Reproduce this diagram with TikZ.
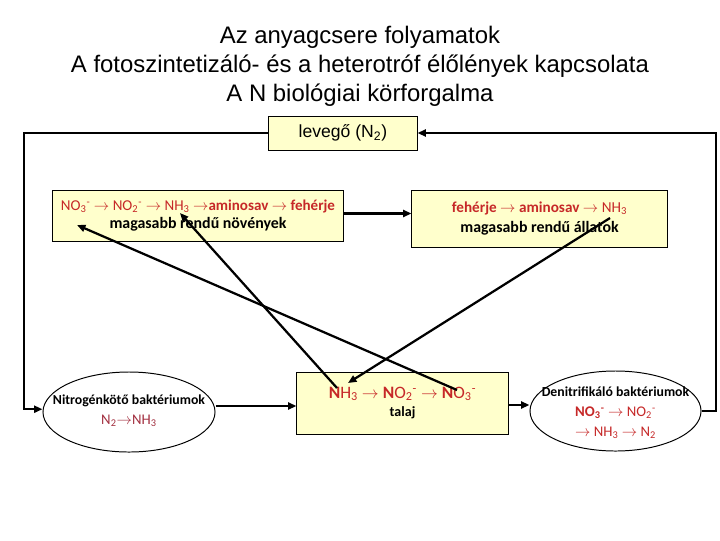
\documentclass[tikz,border=0pt]{standalone}
\usepackage{fontspec}
\setmainfont{Liberation Sans}
\newfontfamily\calfont{Carlito}
\usetikzlibrary{arrows.meta, positioning, shapes.geometric}
\definecolor{paleyellow}{HTML}{FFFFCC}
\definecolor{chemred}{HTML}{C62828}
\definecolor{chemmaroon}{HTML}{A33040}
\newcommand{\chg}[2]{\textsubscript{#1}\textsuperscript{#2}}
\tikzset{
  ybox/.style={rectangle, draw=black, fill=paleyellow, line width=0.7pt,
               inner sep=2pt, align=center},
  oval/.style={ellipse, draw=black, line width=0.7pt, minimum width=4.3cm,
               minimum height=2cm, inner sep=0pt},
  ovaltext/.style={align=center, inner sep=0pt,
                   font=\calfont\fontsize{9.8}{14}\selectfont},
  arr/.style={-{Triangle[length=6pt,width=5pt]}, line width=1.6pt, #1},
  arr/.default=black,
}
\begin{document}
\begin{tikzpicture}[x=0.025cm, y=-0.025cm]
  \useasboundingbox[fill=white] (0,0) rectangle (720,540);
  \node[align=center, font=\fontsize{17}{20.6}\selectfont] (title) at (360,66)
    {Az anyagcsere folyamatok\\A fotoszintetizáló- és a heterotróf élőlények kapcsolata\\A N biológiai körforgalma};
  \node[ybox, minimum width=3.7cm, minimum height=0.85cm, font=\fontsize{12.5}{14}\selectfont]
    (air) at (343,133) {levegő (N\textsubscript{2})};
  \node[ybox, minimum width=7.25cm, minimum height=1.275cm, font=\calfont\fontsize{10.7}{12.5}\selectfont]
    (plants) at (198,215.5)
    {\textcolor{chemred}{NO\chg{3}{-} $\rightarrow$ NO\chg{2}{-} $\rightarrow$ NH\textsubscript{3} $\rightarrow$\textbf{aminosav} $\rightarrow$ \textbf{fehérje}}\\
     {\fontsize{11.3}{12.5}\selectfont\textbf{magasabb rendű növények}}};
  \node[ybox, minimum width=6.375cm, minimum height=1.425cm, font=\calfont\fontsize{10.8}{14}\selectfont]
    (animals) at (539.5,218.5)
    {\textcolor{chemred}{\textbf{fehérje} $\rightarrow$ \textbf{aminosav} $\rightarrow$ NH\textsubscript{3}}\\
     {\fontsize{11.3}{14}\selectfont\textbf{magasabb rendű állatok}}};
  \node[oval] (fixers) at (129,412) {};
  \node[ovaltext] (fixerstext) at (129,411)
    {\textbf{Nitrogénkötő baktériumok}\\
     {\fontsize{10.5}{13}\selectfont\textcolor{chemmaroon}{N\textsubscript{2}$\rightarrow$NH\textsubscript{3}}}};
  \node[ybox, minimum width=5.275cm, minimum height=1.55cm, font=\calfont\fontsize{10}{13}\selectfont]
    (soil) at (402.5,403)
    {{\fontsize{12.4}{15}\selectfont\textcolor{chemred}{\textbf{N}H\textsubscript{3} $\rightarrow$ \textbf{N}O\chg{2}{-} $\rightarrow$ \textbf{N}O\chg{3}{-}}}\\
     \textbf{talaj}};
  \node[oval, minimum width=4.275cm] (denitr) at (615.5,411) {};
  \node[ovaltext] (denitrtext) at (615.5,413)
    {\textbf{Denitrifikáló baktériumok}\\
     {\fontsize{10.5}{14}\selectfont\textcolor{chemred}{\textbf{NO\chg{3}{-}} $\rightarrow$ NO\chg{2}{-}}}\\
     {\fontsize{10.5}{14}\selectfont\textcolor{chemred}{$\rightarrow$ NH\textsubscript{3} $\rightarrow$ N\textsubscript{2}}}};
  % corners of the outer loop
  \coordinate (lcorner) at (24,133);
  \coordinate (rcorner) at (716,133);
  % ends of the cross arrows
  \coordinate (plantNO3) at (77,225);
  \coordinate (plantNH3) at (180,213);
  \coordinate (animalNH3) at (610,218);
  \coordinate (soilNH3) at (337,388);
  \coordinate (soilNH3b) at (348,383);
  \coordinate (soilNO3) at (457,390);
  \draw[arr] ([yshift=0.05cm]plants.east) -- ([yshift=0.05cm]plants.east -| animals.west);
  \draw[arr] (air.west) -- (lcorner) |- ([yshift=0.07cm]fixers.west);
  \draw[arr] (denitr.east) -| (rcorner) -- (air.east);
  \draw[arr] ([yshift=0.15cm]fixers.east) -- ([yshift=0.15cm]fixers.east -| soil.west);
  \draw[arr] ([yshift=0.15cm]soil.east |- denitr.west) -- ([yshift=0.15cm]denitr.west);
  \draw[arr] (soilNO3) -- (plantNO3);
  \draw[arr] (soilNH3) -- (plantNH3);
  \draw[arr] (animalNH3) -- (soilNH3b);
\end{tikzpicture}
\end{document}
